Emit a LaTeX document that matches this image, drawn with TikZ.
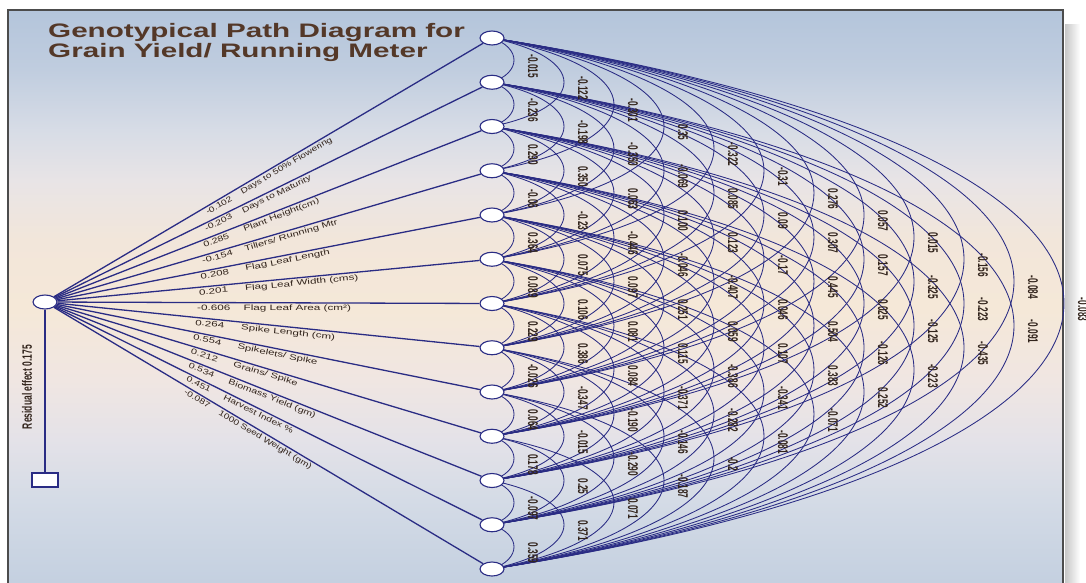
\documentclass[tikz,border=0pt]{standalone}
\usepackage{fontspec}
\setmainfont{Liberation Sans}
\usepackage{graphicx}
\usetikzlibrary{shapes.geometric}

\definecolor{pathblue}{RGB}{42,44,132}
\definecolor{inkbrown}{RGB}{50,36,28}
\definecolor{titlebrown}{RGB}{84,56,40}
\definecolor{bgi}{RGB}{180,197,219}
\definecolor{bgii}{RGB}{192,205,223}
\definecolor{bgiii}{RGB}{215,220,230}
\definecolor{bgiv}{RGB}{232,228,230}
\definecolor{bgv}{RGB}{242,230,218}
\definecolor{bgvi}{RGB}{245,232,216}
\definecolor{bgvii}{RGB}{240,230,226}
\definecolor{bgviii}{RGB}{228,226,232}
\definecolor{bgix}{RGB}{212,219,230}
\definecolor{bgx}{RGB}{196,208,224}

\pgfdeclarelayer{back}
\pgfdeclarelayer{wires}
\pgfsetlayers{back,wires,main}

\tikzset{
  trait/.style={ellipse, draw=pathblue, fill=white, line width=1.1pt,
    minimum width=24pt, minimum height=14pt, inner sep=0pt},
  resbox/.style={rectangle, draw=pathblue, fill=white, line width=1.1pt,
    minimum width=26pt, minimum height=14pt, inner sep=0pt},
  wire/.style={draw=pathblue, line width=1.3pt},
  corr/.style={draw=pathblue, line width=0.85pt},
  corrlabel/.style={font=\fontsize{8.3}{9}\selectfont\bfseries, text=inkbrown,
    rotate=-90, inner sep=0pt},
  effect/.style={font=\fontsize{7.8}{9}\selectfont, text=inkbrown, sloped,
    anchor=north west, inner sep=1.5pt},
}

\begin{document}
\begin{tikzpicture}[x=1pt,y=-1pt]
\useasboundingbox (0,0) rectangle (1086,582);

% background and frame
\begin{pgfonlayer}{back}
  \foreach \ya/\yb/\ca/\cb in {10/70/bgi/bgii, 70/130/bgii/bgiii, 130/180/bgiii/bgiv,
      180/240/bgiv/bgv, 240/310/bgv/bgvi, 310/380/bgvi/bgvii, 380/440/bgvii/bgviii,
      440/500/bgviii/bgix, 500/582/bgix/bgx}
    \shade[top color=\ca, bottom color=\cb] (9,\ya-0.5) rectangle (1063,\yb+0.5);
  \shade[left color=black!22, right color=white] (1065,24) rectangle (1080,582);
  \draw[black!70, line width=2.2pt] (8,586) -- (8,10) -- (1063,10) -- (1063,586);
\end{pgfonlayer}

% title
\node[anchor=north west, font=\fontsize{19.5}{20}\selectfont\bfseries, text=titlebrown,
  align=left, inner sep=0pt] (title) at (48,23)
  {\scalebox{1.52}[1]{Genotypical Path Diagram for}\\\scalebox{1.52}[1]{Grain Yield/ Running Meter}};

% trait nodes
\foreach \k in {1,...,13}
  \node[trait] (n\k) at (492,{38+44.25*(\k-1)}) {};
\node[trait] (L) at (45,302) {};
\node[resbox] (R) at (45,480) {};
\node[font=\fontsize{8.5}{9}\selectfont\bfseries, text=inkbrown, rotate=90, inner sep=0pt]
  (res) at (27,387) {\scalebox{1}[1.6]{Residual effect 0.175}};

% direct effects
\begin{pgfonlayer}{wires}
  \draw[wire] (L) -- (R);
  \foreach \k/\val/\name in {1/-0.102/{Days to 50\% Flowering}, 2/-0.203/{Days to Maturity},
      3/0.285/{Plant Height(cm)}, 4/-0.154/{Tillers/ Running Mtr}, 5/0.208/{Flag Leaf Length},
      6/0.201/{Flag Leaf Width (cms)}, 7/-0.606/{Flag Leaf Area (cm²)}, 8/0.264/{Spike Length (cm)},
      9/0.554/{Spikelets/ Spike}, 10/0.212/{Grains/ Spike}, 11/0.534/{Biomass Yield (gm)},
      12/0.451/{Harvest Index \%}, 13/-0.087/{1000 Seed Weight (gm)}}
  {
    \pgfmathsetmacro\tq{1.5*(38+44.25*(\k-1)-302)/447}
    \pgfmathsetmacro\sx{sqrt((2.25+\tq*\tq)/(1+\tq*\tq))}
    \pgfmathsetmacro\ps{0.345-0.038*(\k-1)/12}
    \draw[wire] (L) -- (n\k)
      node[effect, pos=\ps] (e\k) {\scalebox{\sx}[1]{\makebox[31pt][l]{\val}\name}};
  }

  % correlation arcs
  \foreach \i in {1,...,12}{
    \pgfmathtruncatemacro\first{\i+1}
    \foreach \j in {\first,...,13}{
      \pgfmathsetmacro\ax{4/3*(22+50*(\j-\i-1))}
      \pgfmathsetmacro\by{0.45*22.125*(\j-\i)}
      \draw[corr] (n\i.center) .. controls +(\ax,\by) and +(\ax,-\by) .. (n\j.center);
    }
  }
\end{pgfonlayer}

% correlation values
\foreach \d/\vals in {
    1/{-0.015,-0.236,0.290,-0.06,0.364,0.089,0.229,-0.026,0.064,0.178,-0.097,0.359},
    2/{-0.122,-0.198,0.350,-0.23,0.075,0.106,0.386,-0.347,-0.015,0.25,0.371},
    3/{-0.301,-0.350,0.063,-0.446,0.097,0.081,0.084,-0.190,-0.290,0.071},
    4/{0.35,-0.069,0.100,-0.046,0.251,0.115,-0.371,-0.146,-0.187},
    5/{-0.322,0.085,0.123,-0.407,0.059,-0.386,-0.282,-0.2},
    6/{-0.31,0.09,-0.17,0.046,0.107,-0.341,-0.081},
    7/{0.276,0.307,0.445,0.504,0.383,-0.071},
    8/{0.057,0.157,0.025,-0.126,0.252},
    9/{0.015,-0.325,-0.125,-0.223},
    10/{-0.156,-0.223,-0.435},
    11/{-0.084,-0.091},
    12/{-0.083}}
{
  \foreach \v [count=\i] in \vals {
    \pgfmathtruncatemacro\j{\i+\d}
    \node[corrlabel] (c\i-\j) at ({533+50*(\d-1)},{44+44.25*(\i-1)+22.125*\d})
      {\scalebox{1}[1.7]{\v}};
  }
}
\end{tikzpicture}
\end{document}
